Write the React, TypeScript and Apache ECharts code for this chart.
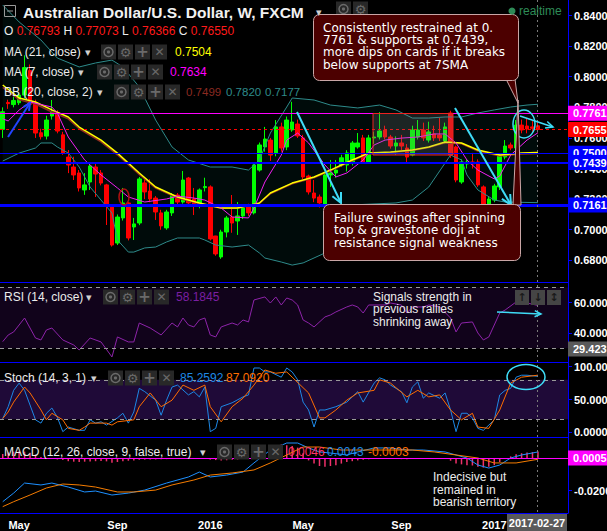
import React, { useEffect, useRef } from 'react';
import * as echarts from 'echarts';

// ---------------- data ----------------
const START_WEEK = '2015-04-13';
const FUTURE_BARS = 5;

const opens = [
  0.7656, 0.7832, 0.7818, 0.7830, 0.7880, 0.8040, 0.7830, 0.7634, 0.7612, 0.7743,
  0.7763, 0.7620, 0.7475, 0.7410, 0.7371, 0.7260, 0.7312, 0.7410, 0.7371, 0.7293,
  0.7148, 0.6913, 0.7077, 0.7175, 0.7018, 0.7044, 0.7306, 0.7253, 0.7207, 0.7110,
  0.7012, 0.7110, 0.7227, 0.7181, 0.7338, 0.7201, 0.7155, 0.7275, 0.7280, 0.6959,
  0.6822, 0.6985, 0.7083, 0.7057, 0.7090, 0.7149, 0.7110, 0.7390, 0.7541, 0.7586,
  0.7502, 0.7672, 0.7541, 0.7652, 0.7691, 0.7600, 0.7351, 0.7240, 0.7214, 0.7155,
  0.7358, 0.7371, 0.7423, 0.7423, 0.7436, 0.7541, 0.7600, 0.7443, 0.7600, 0.7606,
  0.7652, 0.7606, 0.7547, 0.7567, 0.7534, 0.7488, 0.7606, 0.7652, 0.7586, 0.7626,
  0.7619, 0.7580, 0.7763, 0.7541, 0.7312, 0.7430, 0.7443, 0.7443, 0.7280, 0.7161,
  0.7194, 0.7280, 0.7475, 0.7554, 0.7534, 0.7684, 0.7678, 0.7672, 0.76793,
];
const highs = [
  0.7800, 0.7850, 0.7870, 0.7895, 0.8140, 0.8080, 0.7850, 0.7660, 0.7745, 0.7848,
  0.7780, 0.7640, 0.7521, 0.7477, 0.7390, 0.7370, 0.7430, 0.7437, 0.7390, 0.7300,
  0.7160, 0.7100, 0.7273, 0.7180, 0.7077, 0.7345, 0.7345, 0.7330, 0.7220, 0.7130,
  0.7130, 0.7240, 0.7240, 0.7384, 0.7345, 0.7273, 0.7270, 0.7340, 0.7290, 0.6960,
  0.7000, 0.7090, 0.7227, 0.7181, 0.7160, 0.7170, 0.7430, 0.7570, 0.7672, 0.7600,
  0.7717, 0.7700, 0.7740, 0.7836, 0.7720, 0.7620, 0.7360, 0.7325, 0.7230, 0.7370,
  0.7456, 0.7456, 0.7490, 0.7520, 0.7580, 0.7632, 0.7620, 0.7620, 0.7640, 0.7769,
  0.7680, 0.7620, 0.7610, 0.7620, 0.7560, 0.7680, 0.7717, 0.7700, 0.7706, 0.7680,
  0.7730, 0.7700, 0.7778, 0.7550, 0.7460, 0.7460, 0.7502, 0.7460, 0.7290, 0.7220,
  0.7300, 0.7500, 0.7586, 0.7570, 0.7717, 0.7720, 0.7730, 0.7710, 0.77073,
];
const lows = [
  0.7600, 0.7790, 0.7800, 0.7815, 0.7860, 0.7800, 0.7600, 0.7590, 0.7590, 0.7720,
  0.7630, 0.7490, 0.7370, 0.7325, 0.7250, 0.7228, 0.7260, 0.7214, 0.7290, 0.7031,
  0.6890, 0.6900, 0.7060, 0.6930, 0.6933, 0.7030, 0.7200, 0.7180, 0.7064, 0.7000,
  0.7000, 0.7090, 0.7160, 0.7170, 0.7150, 0.7096, 0.7140, 0.7250, 0.6930, 0.6830,
  0.6810, 0.6950, 0.6980, 0.6966, 0.7070, 0.7090, 0.7100, 0.7380, 0.7510, 0.7450,
  0.7480, 0.7510, 0.7520, 0.7640, 0.7600, 0.7330, 0.7230, 0.7180, 0.7145, 0.7145,
  0.7280, 0.7340, 0.7410, 0.7380, 0.7420, 0.7530, 0.7430, 0.7430, 0.7560, 0.7590,
  0.7590, 0.7530, 0.7490, 0.7520, 0.7440, 0.7480, 0.7590, 0.7580, 0.7570, 0.7580,
  0.7580, 0.7560, 0.7470, 0.7310, 0.7300, 0.7400, 0.7400, 0.7280, 0.7160, 0.7160,
  0.7180, 0.7260, 0.7460, 0.7520, 0.7520, 0.7630, 0.7630, 0.7640, 0.76366,
];
const closes = [
  0.7771, 0.7824, 0.7845, 0.7880, 0.8060, 0.7820, 0.7632, 0.7608, 0.7717, 0.7770,
  0.7645, 0.7502, 0.7423, 0.7358, 0.7273, 0.7293, 0.7416, 0.7364, 0.7305, 0.7162,
  0.6900, 0.7083, 0.7175, 0.6946, 0.7038, 0.7332, 0.7247, 0.7201, 0.7116, 0.7025,
  0.7116, 0.7227, 0.7181, 0.7325, 0.7175, 0.7155, 0.7260, 0.7282, 0.6940, 0.6842,
  0.6985, 0.7077, 0.7044, 0.7090, 0.7142, 0.7110, 0.7423, 0.7554, 0.7593, 0.7488,
  0.7672, 0.7534, 0.7717, 0.7704, 0.7613, 0.7345, 0.7247, 0.7207, 0.7175, 0.7358,
  0.7371, 0.7390, 0.7470, 0.7502, 0.7567, 0.7567, 0.7443, 0.7600, 0.7606, 0.7645,
  0.7606, 0.7547, 0.7567, 0.7547, 0.7475, 0.7652, 0.7652, 0.7600, 0.7639, 0.7600,
  0.7600, 0.7672, 0.7488, 0.7325, 0.7443, 0.7443, 0.7430, 0.7293, 0.7161, 0.7201,
  0.7286, 0.7488, 0.7547, 0.7534, 0.7684, 0.7652, 0.7658, 0.7663, 0.76550,
];

// indicator lines, [bar index, value] read at points along each curve
const ma21Pts = [[0,0.7946],[3,0.7861],[6,0.7835],[9,0.7783],[12,0.7737],[14,0.7671],[18,0.7586],[21,0.7501],[25,0.7371],[28,0.7279],[32,0.7214],[36,0.7175],[40,0.7142],[43,0.7142],[47,0.7175],[49,0.7240],[53,0.7305],[57,0.7345],[60,0.7390],[64,0.7456],[67,0.7501],[71,0.7508],[75,0.7521],[78,0.7541],[81,0.7573],[84,0.7567],[87,0.7521],[91,0.7488],[95,0.7501],[98,0.7504]];
const bbMidPts = [[0,0.7930],[3,0.7850],[6,0.7822],[9,0.7770],[12,0.7725],[14,0.7660],[18,0.7575],[21,0.7490],[25,0.7362],[28,0.7272],[32,0.7208],[36,0.7170],[40,0.7140],[43,0.7140],[47,0.7172],[49,0.7235],[53,0.7300],[57,0.7340],[60,0.7385],[64,0.7450],[67,0.7496],[71,0.7505],[75,0.7518],[78,0.7538],[81,0.7568],[84,0.7562],[87,0.7515],[91,0.7482],[95,0.7496],[98,0.7499]];
const ma7Pts = [[0,0.7725],[1,0.7711],[3,0.7782],[5,0.7835],[9,0.7802],[10,0.7763],[12,0.7606],[15,0.7456],[18,0.7358],[21,0.7273],[23,0.7214],[26,0.7181],[30,0.7201],[32,0.7220],[35,0.7207],[37,0.7194],[40,0.7142],[42,0.7083],[45,0.7077],[46,0.7142],[48,0.7312],[51,0.7488],[52,0.7586],[54,0.7632],[56,0.7567],[59,0.7423],[61,0.7345],[63,0.7371],[66,0.7456],[68,0.7554],[70,0.7586],[73,0.7599],[76,0.7606],[79,0.7626],[81,0.7626],[83,0.7567],[85,0.7456],[87,0.7390],[90,0.7332],[91,0.7351],[93,0.7488],[96,0.7586],[98,0.7634]];
const bbUpperPts = [[0,0.8469],[3,0.8358],[7,0.8240],[10,0.8122],[14,0.8064],[17,0.8090],[20,0.8109],[22,0.8064],[25,0.7933],[28,0.7717],[31,0.7541],[34,0.7456],[38,0.7410],[42,0.7410],[45,0.7390],[47,0.7456],[49,0.7632],[52,0.7802],[53,0.7861],[57,0.7848],[60,0.7815],[65,0.7796],[69,0.7815],[72,0.7783],[75,0.7730],[78,0.7730],[81,0.7737],[84,0.7737],[87,0.7763],[90,0.7783],[93,0.7802],[96,0.7815],[98,0.7820]];
const bbLowerPts = [[0,0.7449],[3,0.7501],[6,0.7534],[7,0.7567],[9,0.7567],[10,0.7541],[12,0.7501],[14,0.7410],[16,0.7279],[18,0.7194],[20,0.7109],[21,0.6933],[23,0.6854],[24,0.6854],[26,0.6881],[28,0.6887],[30,0.6920],[32,0.6946],[36,0.6946],[37,0.6933],[39,0.6900],[42,0.6887],[45,0.6900],[47,0.6848],[48,0.6815],[51,0.6789],[53,0.6769],[55,0.6783],[59,0.6848],[62,0.7031],[64,0.7162],[72,0.7175],[75,0.7194],[78,0.7279],[81,0.7436],[82,0.7488],[84,0.7456],[85,0.7358],[87,0.7260],[90,0.7194],[92,0.7181],[98,0.7177]];

const rsiPts = [[0,34.3],[1,38.7],[2,40.7],[4,49.9],[6,36.7],[7,35.4],[8,42],[9,43.3],[11,35.4],[13,32.1],[14,28.8],[16,36.7],[18,34.1],[20,24.2],[21,37.4],[23,34.1],[24,34.1],[25,46.6],[27,43.3],[29,38.7],[31,46.6],[32,44],[33,49.9],[34,45.3],[35,44],[36,48.6],[37,49.9],[38,38.7],[39,37.4],[40,44],[42,46.6],[43,45.3],[44,48.6],[45,47.3],[46,61.8],[48,63.8],[49,59.8],[50,63.8],[51,58.5],[52,63.1],[53,61.8],[54,58.5],[55,48.6],[56,46.6],[57,44],[59,50.6],[60,51.9],[61,53.9],[63,57.2],[64,58.5],[65,57.2],[66,53.2],[67,58.5],[68,58.5],[70,58.5],[71,59.8],[73,58.5],[74,53.2],[75,57.2],[77,57.2],[78,58.5],[80,57.2],[82,49.9],[83,40.7],[84,46.6],[86,47.3],[87,40],[88,35.4],[89,37.4],[91,53.2],[92,55.2],[94,60.5],[96,59.8],[98,58.18]];
const stochKPts = [[0,21],[1,39],[2,64],[3,75],[4,64],[6,19],[7,14],[8,29],[9,37],[10,23],[11,1],[12,8],[14,3],[15,3],[16,19],[17,14],[18,16],[19,11],[21,22],[22,29],[23,14],[24,31],[25,67],[26,62],[28,49],[29,26],[30,49],[31,69],[32,72],[34,57],[35,62],[36,54],[37,69],[38,1],[39,6],[40,39],[42,45],[44,54],[45,57],[46,98],[47,98],[48,92],[49,92],[51,84],[52,98],[53,92],[54,80],[55,46],[56,34],[57,8],[58,34],[59,34],[61,39],[63,46],[64,54],[65,62],[66,46],[68,75],[69,83],[70,80],[71,72],[73,62],[74,45],[75,69],[76,77],[77,52],[78,60],[80,52],[81,60],[82,34],[83,1],[84,29],[85,29],[86,22],[87,6],[88,3],[90,19],[91,57],[92,64],[93,67],[94,84],[95,87],[96,87],[98,85.26]];
const stochDPts = [[0,21],[1,31],[2,46],[4,69],[5,60],[7,34],[8,19],[9,29],[11,19],[12,6],[14,3],[15,8],[16,14],[19,14],[20,11],[21,16],[24,19],[25,39],[27,60],[29,39],[31,49],[33,72],[35,64],[37,72],[38,39],[40,16],[42,39],[44,52],[46,72],[48,95],[50,90],[52,92],[53,84],[56,60],[58,22],[59,22],[61,34],[63,49],[65,60],[68,64],[69,80],[71,75],[74,54],[76,64],[78,54],[80,57],[82,34],[84,19],[86,29],[87,8],[89,6],[91,34],[93,75],[95,84],[98,87.09]];
const macdPts = [[0,-0.0269],[2,-0.0215],[4,-0.0152],[7,-0.0164],[9,-0.0152],[12,-0.0177],[15,-0.0208],[17,-0.0202],[20,-0.0227],[23,-0.0215],[26,-0.0196],[30,-0.0152],[34,-0.0114],[36,-0.0083],[38,-0.0114],[41,-0.0102],[44,-0.0083],[46,-0.0026],[49,0.0055],[52,0.0099],[54,0.0099],[56,0.0068],[58,0.0043],[60,0.0036],[63,0.0024],[65,0.0043],[68,0.0068],[71,0.0068],[74,0.0055],[77,0.0055],[81,0.0043],[85,0.0005],[87,-0.0039],[89,-0.0058],[91,-0.0039],[93,0.0005],[95,0.0024],[98,0.0043]];
const signalPts = [[0,-0.0300],[2,-0.0269],[5,-0.0227],[8,-0.0183],[11,-0.0158],[14,-0.0164],[17,-0.0177],[21,-0.0208],[24,-0.0208],[28,-0.0196],[31,-0.0164],[35,-0.0133],[38,-0.0102],[42,-0.0089],[46,-0.0070],[49,-0.0026],[52,0.0024],[55,0.0074],[58,0.0074],[62,0.0055],[66,0.0055],[70,0.0055],[75,0.0055],[79,0.0043],[83,0.0024],[87,0.0005],[90,-0.0026],[94,-0.0026],[98,-0.0003]];
const macdHist = [
  0.0030, 0.0040, 0.0045, 0.0048, 0.0045, 0.0038, 0.0025, 0.0012, 0.0005, 0.0002, -0.0004,
  -0.0008, -0.0015, -0.0018, -0.0020, -0.0018, -0.0017, -0.0015, -0.0014, -0.0016, -0.0025, -0.0020, -0.0016,
  -0.0012, -0.0010, -0.0006, -0.0005, -0.0004, -0.0004, -0.0003, -0.0002, 0.0002, 0.0003, 0.0004, 0.0003, 0.0001, 0.0002, 0.0003, -0.0005, -0.0008, -0.0010,
  -0.0009, -0.0006, -0.0004, -0.0002, 0.0002,
  0.0020, 0.0045, 0.0060, 0.0075, 0.0085, 0.0090, 0.0085, 0.0080, 0.0070,
  0.0035, -0.0010, -0.0030, -0.0045, -0.0050, -0.0045, -0.0040, -0.0030,
  -0.0020, -0.0015, -0.0010, -0.0006, -0.0003, 0, 0.0002, 0.0003, 0.0002, 0.0001, -0.0002, -0.0003, 0, 0.0002, 0.0001, 0.0001, -0.0001, 0, 0.0001, -0.0012,
  -0.0030, -0.0035, -0.0040, -0.0042, -0.0050, -0.0055, -0.0050, -0.0040, -0.0020,
  0, 0.0015, 0.0028, 0.0035, 0.0040, 0.0042, 0.0046,
];

const priceLevels = [0.7761, 0.7655, 0.7500, 0.7439, 0.7161];
const priceTicks = [0.68, 0.70, 0.72, 0.74, 0.76, 0.78, 0.80, 0.82, 0.84];
const rsiTicks = [40, 60];
const rsiBand = [30, 70];
const rsiMarker = 29.423;
const stochTicks = [0, 50, 100];
const stochBand = [20, 80];
const macdTicks = [-0.02];
const macdMarker = 0.0005;
const timeTicks: [number, string][] = [[3, 'May'], [21, 'Sep'], [38, '2016'], [55, 'May'], [73, 'Sep'], [90, '2017']];

// ---------------- styling / layout ----------------
const FONT = '"Liberation Sans", Arial, sans-serif';
const DJ = '"DejaVu Sans", sans-serif';
const BLUE = '#0000ff';
const CYAN = '#3fdcf7';
const levelStyles = [
  { color: '#ff00ff', width: 1, type: 'solid' as any },
  { color: '#ff0000', width: 1, type: [3, 3] as any },
  { color: BLUE, width: 1, type: 'solid' as any },
  { color: BLUE, width: 2, type: 'solid' as any },
  { color: BLUE, width: 3, type: 'solid' as any },
];

function txt(text: string, x: number, y: number, fill: string, size = 12, weight = 'normal', family = FONT, align = 'left', lineHeight?: number) {
  const style: any = { text, x, y, fill, font: `${weight} ${size}px ${family}`, align, verticalAlign: 'middle' };
  if (lineHeight) { style.lineHeight = lineHeight; style.verticalAlign = 'top'; }
  return { type: 'text', z: 120, silent: true, style };
}

function icons(x0: number, yc: number, n = 4, step = 17) {
  const out: any[] = [];
  for (let k = 0; k < n; k++) {
    const x = x0 + k * step;
    out.push({ type: 'rect', z: 115, silent: true, shape: { x, y: yc - 7.5, width: 15, height: 15 }, style: { fill: '#282828' } });
    const cx = x + 7.5;
    if (k === 0) {
      out.push({ type: 'circle', z: 116, silent: true, shape: { cx, cy: yc, r: 4.5 }, style: { stroke: '#6a6a6a', fill: null, lineWidth: 1.5 } });
      out.push({ type: 'circle', z: 116, silent: true, shape: { cx, cy: yc, r: 1.6 }, style: { fill: '#6a6a6a' } });
    } else if (k === 1) {
      out.push({ type: 'text', z: 116, silent: true, style: { text: '\u2699', x: cx, y: yc, fill: '#6a6a6a', font: `13px ${DJ}`, align: 'center', verticalAlign: 'middle' } });
    } else if (k === 2) {
      out.push({ type: 'text', z: 116, silent: true, style: { text: '+', x: cx, y: yc, fill: '#6a6a6a', font: `bold 15px ${DJ}`, align: 'center', verticalAlign: 'middle' } });
    } else {
      out.push({ type: 'text', z: 116, silent: true, style: { text: '\u2715', x: cx, y: yc, fill: '#6a6a6a', font: `12px ${DJ}`, align: 'center', verticalAlign: 'middle' } });
    }
  }
  return out;
}

function arrow(x1: number, y1: number, x2: number, y2: number, color: string, w: number, head = 9) {
  const a = Math.atan2(y2 - y1, x2 - x1);
  const p1 = [x2 - head * Math.cos(a - 0.45), y2 - head * Math.sin(a - 0.45)];
  const p2 = [x2 - head * Math.cos(a + 0.45), y2 - head * Math.sin(a + 0.45)];
  return [
    { type: 'line', z: 110, silent: true, shape: { x1, y1, x2, y2 }, style: { stroke: color, lineWidth: w } },
    { type: 'polyline', z: 110, silent: true, shape: { points: [p1, [x2, y2], p2] }, style: { stroke: color, lineWidth: w, fill: null } },
  ];
}

function buildGraphics() {
  const g: any[] = [];
  // crosshair
  g.push({ type: 'line', z: 90, silent: true, shape: { x1: 537.5, y1: 0, x2: 537.5, y2: 513 }, style: { stroke: '#7a7a7a', lineWidth: 1, lineDash: [2, 3] } });
  // consolidation rectangle
  g.push({ type: 'rect', z: 95, silent: true, shape: { x: 373, y: 113.5, width: 80, height: 41.5 }, style: { fill: 'rgba(130,130,130,0.22)', stroke: '#ee2020', lineWidth: 1 } });

  // header
  g.push({ type: 'rect', z: 120, silent: true, shape: { x: 4.5, y: 5.5, width: 11, height: 11 }, style: { stroke: '#9a9a9a', fill: null, lineWidth: 1 } });
  g.push({ type: 'line', z: 120, silent: true, shape: { x1: 7, y1: 11, x2: 13, y2: 11 }, style: { stroke: '#9a9a9a', lineWidth: 1 } });
  g.push(txt('Australian Dollar/U.S. Dollar, W, FXCM', 23, 12, '#f2f2f2', 15.5, 'bold'));
  g.push(txt('\u25BE', 316, 12, '#d0d0d0', 11, 'normal', DJ));
  g.push(...icons(336, 9, 2, 17));
  g.push({
    type: 'text', z: 120, silent: true,
    style: {
      text: '{w|O} {r|0.76793} {w|H} {r|0.77073} {w|L} {r|0.76366} {w|C} {r|0.76550}',
      x: 4, y: 31, verticalAlign: 'middle', font: `12px ${FONT}`,
      rich: {
        w: { fill: '#ececec', font: `12px ${FONT}` },
        r: { fill: '#ff1a1a', font: `12px ${FONT}` },
      },
    },
  });
  g.push(txt('MA (21, close)', 4, 52, '#ececec'));
  g.push(txt('\u25BE', 85, 52, '#d0d0d0', 11, 'normal', DJ));
  g.push(...icons(101, 52));
  g.push(txt('0.7504', 175, 52, '#ffff00'));
  g.push(txt('MA (7, close)', 4, 72, '#ececec'));
  g.push(txt('\u25BE', 78, 72, '#d0d0d0', 11, 'normal', DJ));
  g.push(...icons(97, 72));
  g.push(txt('0.7634', 170, 72, '#ff00ff'));
  g.push(txt('BB (20, close, 2)', 4, 92, '#ececec'));
  g.push(txt('\u25BE', 97, 92, '#d0d0d0', 11, 'normal', DJ));
  g.push(...icons(114, 92));
  g.push(txt('0.7499', 186, 92, '#8b2a20', 11.5));
  g.push(txt('0.7820', 226, 92, '#2e8b8b', 11.5));
  g.push(txt('0.7177', 265, 92, '#2e8b8b', 11.5));

  // realtime
  g.push({ type: 'circle', z: 120, silent: true, shape: { cx: 512, cy: 11, r: 3.5 }, style: { fill: '#2e8b57' } });
  g.push(txt('realtime', 519, 11, '#2e8b57', 12));

  // callout 1
  g.push({ type: 'polygon', z: 118, silent: true, shape: { points: [[506, 79], [518, 103], [515, 79]] }, style: { fill: '#4c0000', stroke: '#c9a6a6', lineWidth: 1 } });
  g.push({ type: 'rect', z: 119, silent: true, shape: { x: 313.5, y: 14.5, width: 205, height: 66, r: 6 }, style: { fill: '#4c0000', stroke: '#c9a6a6', lineWidth: 1 } });
  g.push({ type: 'polygon', z: 119, silent: true, shape: { points: [[507, 80], [515, 80], [511, 78]] }, style: { fill: '#4c0000' } });
  g.push(txt('Consistently restrained at 0.\n7761 & supports at 0.7439,\nmore dips on cards if it breaks\nbelow supports at 7SMA', 323, 21.5, '#ffffff', 12, 'normal', DJ, 'left', 12.3));

  // callout 2
  g.push({ type: 'polygon', z: 118, silent: true, shape: { points: [[513, 205], [518, 100], [521, 205]] }, style: { fill: '#4c0000', stroke: '#c9a6a6', lineWidth: 1 } });
  g.push({ type: 'rect', z: 119, silent: true, shape: { x: 323.5, y: 204.5, width: 197, height: 56, r: 6 }, style: { fill: '#4c0000', stroke: '#c9a6a6', lineWidth: 1 } });
  g.push(txt('Failure swings after spinning\ntop & gravestone doji at\nresistance signal weakness', 334, 212, '#ffffff', 12, 'normal', DJ, 'left', 12.2));

  // drawings
  g.push(...arrow(8, 137, 30, 103, '#2244ff', 2, 8));
  g.push(...arrow(297, 112, 341, 203, CYAN, 2, 11));
  g.push(...arrow(455, 108, 511, 205, CYAN, 2, 11));
  g.push(...arrow(520, 116, 553, 127, CYAN, 1.5, 8));
  g.push(...arrow(497, 312, 541, 314, CYAN, 1.5, 7));
  g.push({ type: 'ellipse', z: 110, silent: true, shape: { cx: 524, cy: 124, rx: 11, ry: 14 }, style: { stroke: CYAN, fill: null, lineWidth: 1.5 } });
  g.push({ type: 'ellipse', z: 110, silent: true, shape: { cx: 526, cy: 377, rx: 19, ry: 12.5 }, style: { stroke: CYAN, fill: null, lineWidth: 1.5 } });
  g.push({ type: 'ellipse', z: 110, silent: true, shape: { cx: 124, cy: 197, rx: 5, ry: 8 }, style: { stroke: '#b01010', fill: null, lineWidth: 1.5 } });

  // RSI panel
  g.push(txt('RSI (14, close)', 4, 297, '#ececec'));
  g.push(txt('\u25BE', 86, 297, '#d0d0d0', 11, 'normal', DJ));
  g.push(...icons(103, 297));
  g.push(txt('58.1845', 176, 297, '#7b1fa2'));
  g.push(txt('Signals strength in\nprevious rallies\nshrinking away', 373, 290.5, '#ececec', 12, 'normal', FONT, 'left', 12.5));
  ['\u2191', '\u2193', '\u2195'].forEach((s, k) => {
    const x = 515 + k * 16;
    g.push({ type: 'rect', z: 115, silent: true, shape: { x, y: 290, width: 14, height: 15 }, style: { fill: '#454545' } });
    g.push({ type: 'text', z: 116, silent: true, style: { text: s, x: x + 7, y: 297.5, fill: '#1a1a1a', font: `bold 11px ${DJ}`, align: 'center', verticalAlign: 'middle' } });
  });

  // Stoch panel
  g.push(txt('Stoch (14, 3, 1)', 4, 378, '#ececec'));
  g.push(txt('\u25BE', 91, 378, '#d0d0d0', 11, 'normal', DJ));
  g.push(...icons(108, 378));
  g.push(txt('85.2592', 180, 378, '#1e88e5'));
  g.push(txt('87.0920', 226, 378, '#ff6d00'));

  // MACD panel
  g.push(txt('MACD (12, 26, close, 9, false, true)', 4, 452, '#ececec'));
  g.push(txt('\u25BE', 200, 452, '#d0d0d0', 11, 'normal', DJ));
  g.push(...icons(217, 452));
  g.push(txt('0.0046', 288, 452, '#ff3366'));
  g.push(txt('0.0043', 327, 452, '#1e88e5'));
  g.push(txt('-0.0003', 368, 452, '#ff6d00'));
  g.push(txt('Indecisive but\nremained in\nbearish territory', 433, 471, '#ececec', 12, 'normal', FONT, 'left', 12.4));

  // date label
  g.push({ type: 'rect', z: 120, silent: true, shape: { x: 507, y: 514, width: 60, height: 17 }, style: { fill: '#5a5a5a' } });
  g.push(txt('2017-02-27', 537, 523, '#ffffff', 11, 'bold', FONT, 'center'));
  return g;
}

function buildOption() {
  const startMs = Date.parse(START_WEEK + 'T00:00:00Z');
  const nCats = closes.length + FUTURE_BARS;
  const cats = Array.from({ length: nCats }, (_, i) => new Date(startMs + i * 7 * 86400000).toISOString().slice(0, 10));
  const tickMap = new Map<number, string>(timeTicks);
  const candles = closes.map((c, i) => [opens[i], c, lows[i], highs[i]]);

  const grids = [
    { top: 0, height: 282 },
    { top: 282, height: 80 },
    { top: 362, height: 75 },
    { top: 437, height: 76 },
  ].map((g) => ({ left: 0, width: 568, top: g.top, height: g.height, containLabel: false, outerBoundsMode: 'none', show: false }));

  const xAxes = grids.map((_, k) => ({
    type: 'category', gridIndex: k, data: cats, boundaryGap: true,
    axisLine: { show: true, onZero: false, lineStyle: { color: BLUE, width: 1 } },
    axisTick: { show: false },
    splitLine: { show: false },
    axisLabel: k === 3 ? {
      show: true, color: '#ffffff', fontSize: 11, fontWeight: 'bold', fontFamily: FONT, margin: 6,
      interval: (idx: number) => tickMap.has(idx),
      formatter: (_v: string, idx: number) => tickMap.get(idx) ?? '',
      hideOverlap: false,
    } : { show: false },
  }));

  const labelBase = { color: '#ffffff', fontSize: 11, fontWeight: 'bold', fontFamily: FONT, margin: 6 };
  const yCommon = (k: number, min: number, max: number, ticks: number[], fmt: (v: number) => string) => ({
    type: 'value', gridIndex: k, position: 'right', min, max, scale: true,
    axisLine: { show: true, lineStyle: { color: BLUE, width: 1 } },
    axisTick: { show: true, length: 4, lineStyle: { color: BLUE }, customValues: ticks },
    axisLabel: { ...labelBase, customValues: ticks, formatter: (v: number) => fmt(v) },
    splitLine: { show: false },
  });
  const stochFmt: Record<number, string> = { 0: '0.0000', 50: '50.000', 100: '100.00' };
  const yAxes = [
    yCommon(0, 0.66584, 0.85015, priceTicks, (v) => v.toFixed(4)),
    yCommon(1, 20.86, 73.66, rsiTicks, (v) => v.toFixed(3)),
    yCommon(2, -7.16, 107.16, stochTicks, (v) => stochFmt[v] ?? String(v)),
    yCommon(3, -0.03398, 0.01367, macdTicks, (v) => v.toFixed(4)),
  ];

  const priceLabel = (bg: string, digits = 4) => ({
    show: true, position: 'end', distance: 0, color: '#ffffff', backgroundColor: bg,
    padding: [2, 8, 2, 5], fontSize: 11, fontWeight: 'bold', fontFamily: FONT,
    formatter: (p: any) => Number(p.value).toFixed(digits),
  });

  const line = (name: string, data: any[], color: string, width: number, xi: number, z = 3) => ({
    name, type: 'line', data, xAxisIndex: xi, yAxisIndex: xi, showSymbol: false, symbol: 'none', silent: true, z,
    lineStyle: { color, width }, clip: true,
  });
  const dashed = (v: number) => ({ yAxis: v, lineStyle: { color: '#9a9a9a', width: 1, type: [4, 4] }, label: { show: false } });

  const series: any[] = [
    {
      type: 'custom', xAxisIndex: 0, yAxisIndex: 0, silent: true, z: 1, data: [0], clip: true,
      renderItem: (_p: any, api: any) => {
        const pts = bbUpperPts.map((p) => api.coord(p)).concat(bbLowerPts.slice().reverse().map((p) => api.coord(p)));
        return { type: 'polygon', shape: { points: pts }, style: { fill: 'rgba(0,150,140,0.07)' } };
      },
    },
    {
      name: 'AUDUSD', type: 'candlestick', data: candles, xAxisIndex: 0, yAxisIndex: 0, barWidth: 4, silent: true, z: 2,
      itemStyle: { color: '#00ff00', color0: '#ff0000', borderColor: '#00ff00', borderColor0: '#ff0000', borderWidth: 1 },
      markLine: {
        silent: true, symbol: ['none', 'none'], animation: false, precision: 5,
        data: priceLevels.map((v, k) => ({
          yAxis: v,
          lineStyle: { color: levelStyles[k].color, width: levelStyles[k].width, type: levelStyles[k].type },
          label: priceLabel(levelStyles[k].color),
        })),
      },
    },
    line('BB upper', bbUpperPts, '#2e8b8b', 1, 0),
    line('BB lower', bbLowerPts, '#2e8b8b', 1, 0),
    line('BB basis', bbMidPts, '#8b2a20', 1.6, 0),
    line('MA 21', ma21Pts, '#ffff00', 1.5, 0, 4),
    line('MA 7', ma7Pts, '#f020f0', 1, 0, 4),
    {
      ...line('RSI', rsiPts, '#8e24aa', 1, 1),
      markArea: { silent: true, itemStyle: { color: 'rgba(100,20,160,0.17)' }, data: [[{ yAxis: rsiBand[0] }, { yAxis: rsiBand[1] }]] },
      markLine: {
        silent: true, symbol: ['none', 'none'], animation: false, precision: 4,
        data: [
          dashed(rsiBand[1]), dashed(rsiBand[0]),
          { yAxis: rsiMarker, lineStyle: { color: 'rgba(0,0,0,0)', width: 0 }, label: priceLabel('#5a5a5a', 3) },
        ],
      },
    },
    {
      ...line('%K', stochKPts, '#1e88e5', 1, 2),
      markArea: { silent: true, itemStyle: { color: 'rgba(110,35,200,0.28)' }, data: [[{ yAxis: stochBand[0] }, { yAxis: stochBand[1] }]] },
      markLine: { silent: true, symbol: ['none', 'none'], animation: false, data: [dashed(stochBand[1]), dashed(stochBand[0])] },
    },
    line('%D', stochDPts, '#ff6d00', 1, 2),
    {
      name: 'Histogram', type: 'bar', data: macdHist, xAxisIndex: 3, yAxisIndex: 3, barWidth: 1.5, silent: true, z: 2,
      itemStyle: { color: '#f0306a' },
      markLine: {
        silent: true, symbol: ['none', 'none'], animation: false, precision: 5,
        data: [{ yAxis: macdMarker, lineStyle: { color: '#ff00ff', width: 1, type: 'solid' }, label: priceLabel('#ff00ff') }],
      },
    },
    line('MACD', macdPts, '#1e90ff', 1, 3),
    line('Signal', signalPts, '#f57c00', 1, 3),
  ];

  return {
    animation: false,
    backgroundColor: '#000000',
    grid: grids,
    xAxis: xAxes,
    yAxis: yAxes,
    series,
    graphic: { elements: buildGraphics() },
  };
}

export default function App() {
  const ref = useRef<HTMLDivElement>(null);
  useEffect(() => {
    if (!ref.current) return;
    const chart = echarts.init(ref.current, null, { renderer: 'svg' });
    chart.setOption(buildOption() as any);
    return () => chart.dispose();
  }, []);
  return <div ref={ref} style={{ position: 'fixed', left: 0, top: 0, width: 607, height: 531, background: '#000' }} />;
}
